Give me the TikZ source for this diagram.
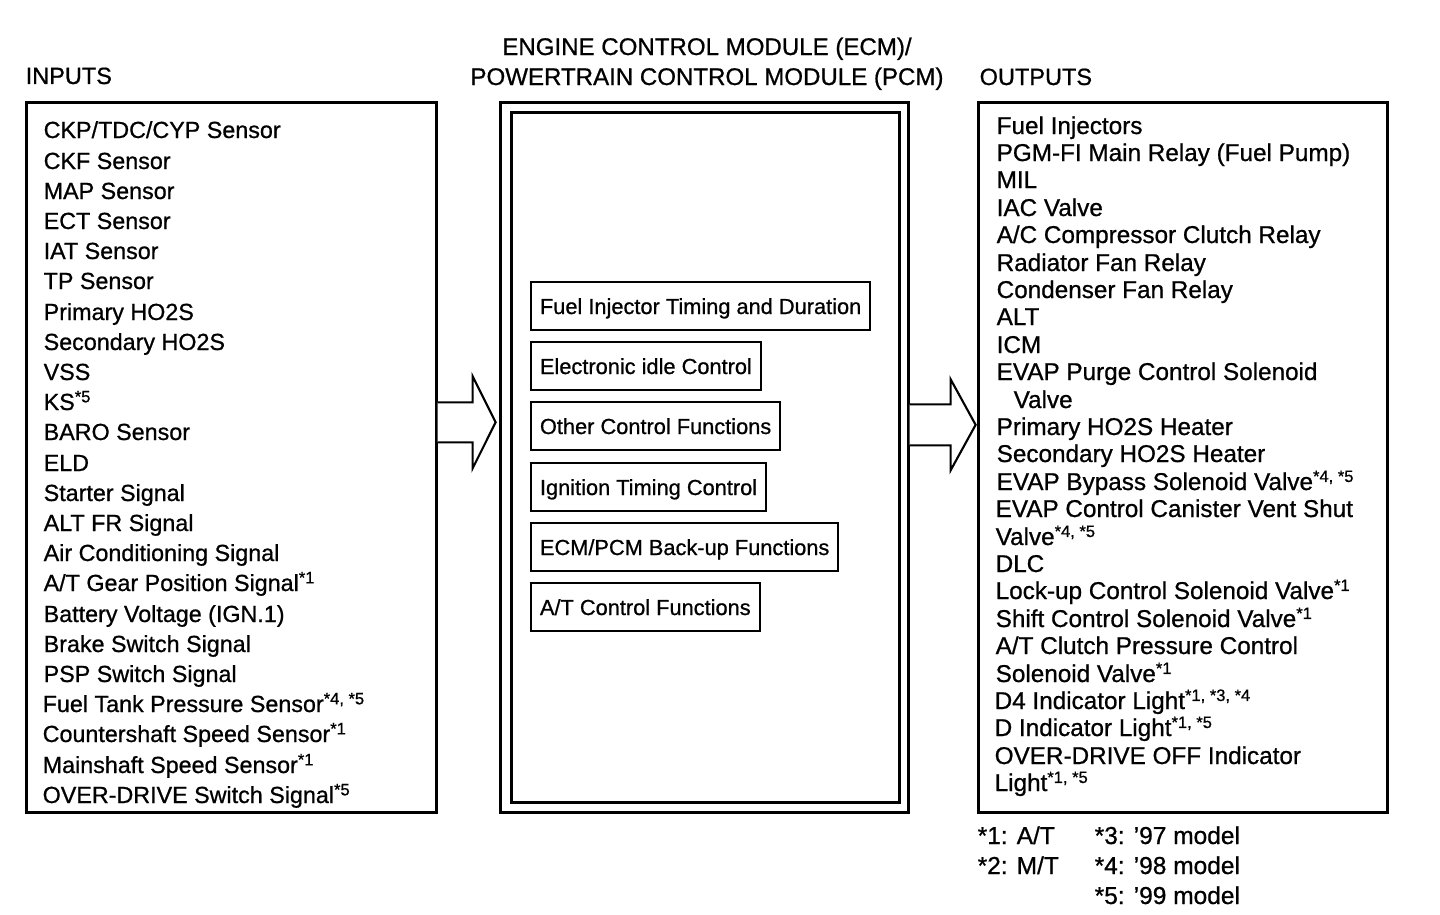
\documentclass[tikz,border=0pt]{standalone}
\usepackage{fontspec}
\setmainfont{Liberation Sans}[FakeBold=0.8]
\usepackage{tikz}
\usetikzlibrary{calc}
\newcommand{\sups}[1]{\raisebox{0.33em}{\fontsize{4.7}{5}\selectfont #1}}
\tikzset{
  bigbox/.style={draw, line width=0.75pt, minimum width=4.10cm, minimum height=7.10cm, anchor=north west},
  fnbox/.style={draw, line width=0.55pt, anchor=west, minimum height=0.37cm, inner xsep=0.09cm,
    text height=2mm, text depth=0.4mm, font=\fontsize{6.2}{7.5}\selectfont},
  intext/.style={anchor=base west, inner sep=0pt, font=\fontsize{6.63}{8}\selectfont},
  outtext/.style={anchor=base west, inner sep=0pt, font=\fontsize{6.91}{8}\selectfont},
  headtext/.style={anchor=base west, inner sep=0pt, font=\fontsize{6.69}{8}\selectfont},
  titletext/.style={anchor=base, inner sep=0pt, font=\fontsize{6.85}{8}\selectfont},
  notetext/.style={anchor=base west, inner sep=0pt, font=\fontsize{6.97}{8}\selectfont},
  blockarrow/.style={draw, line width=0.6pt, line join=miter, fill=white}
}
\begin{document}
\begin{tikzpicture}
  \useasboundingbox (0,0) rectangle (14.4,9.14);

  % Headings
  \node[headtext] (inhead) at (0.25,8.30) {INPUTS};
  \node[titletext] (title1) at (7.07,8.59) {ENGINE CONTROL MODULE (ECM)/};
  \node[titletext] (title2) at (7.07,8.29) {POWERTRAIN CONTROL MODULE (PCM)};
  \node[headtext] (outhead) at (9.79,8.29) {OUTPUTS};

  % --- Inputs ---
  \node[bigbox] (inbox) at (0.25,8.13) {};
  \node[intext] (in1) at (0.43,7.76) {CKP/TDC/CYP Sensor};
  \node[intext] (in2) at (0.43,7.45) {CKF Sensor};
  \node[intext] (in3) at (0.43,7.15) {MAP Sensor};
  \node[intext] (in4) at (0.43,6.85) {ECT Sensor};
  \node[intext] (in5) at (0.43,6.55) {IAT Sensor};
  \node[intext] (in6) at (0.43,6.25) {TP Sensor};
  \node[intext] (in7) at (0.43,5.94) {Primary HO2S};
  \node[intext] (in8) at (0.43,5.64) {Secondary HO2S};
  \node[intext] (in9) at (0.43,5.34) {VSS};
  \node[intext] (in10) at (0.43,5.04) {KS\sups{*5}};
  \node[intext] (in11) at (0.43,4.74) {BARO Sensor};
  \node[intext] (in12) at (0.43,4.43) {ELD};
  \node[intext] (in13) at (0.43,4.13) {Starter Signal};
  \node[intext] (in14) at (0.43,3.83) {ALT FR Signal};
  \node[intext] (in15) at (0.43,3.53) {Air Conditioning Signal};
  \node[intext] (in16) at (0.43,3.23) {A/T Gear Position Signal\sups{*1}};
  \node[intext] (in17) at (0.43,2.92) {Battery Voltage (IGN.1)};
  \node[intext] (in18) at (0.43,2.62) {Brake Switch Signal};
  \node[intext] (in19) at (0.43,2.32) {PSP Switch Signal};
  \node[intext] (in20) at (0.42,2.02) {Fuel Tank Pressure Sensor\sups{*4, *5}};
  \node[intext] (in21) at (0.42,1.72) {Countershaft Speed Sensor\sups{*1}};
  \node[intext] (in22) at (0.42,1.41) {Mainshaft Speed Sensor\sups{*1}};
  \node[intext] (in23) at (0.42,1.11) {OVER-DRIVE Switch Signal\sups{*5}};

  % --- ECM/PCM ---
  \node[bigbox, minimum width=4.08cm] (ecmouter) at (4.99,8.13) {};
  \node[draw, line width=0.75pt, minimum width=3.88cm, minimum height=6.90cm, anchor=north west] (ecminner) at (5.10,8.03) {};
  \node[fnbox] (fninj) at (5.30,6.08) {Fuel Injector Timing and Duration};
  \node[fnbox] (fnidle) at (5.30,5.48) {Electronic idle Control};
  \node[fnbox] (fnother) at (5.30,4.88) {Other Control Functions};
  \node[fnbox] (fnign) at (5.30,4.27) {Ignition Timing Control};
  \node[fnbox] (fnbackup) at (5.30,3.67) {ECM/PCM Back-up Functions};
  \node[fnbox] (fnat) at (5.30,3.07) {A/T Control Functions};

  % --- Outputs ---
  \node[bigbox, minimum width=4.09cm] (outbox) at (9.77,8.13) {};
  \node[outtext] (out1) at (9.96,7.80) {Fuel Injectors};
  \node[outtext] (out2) at (9.96,7.53) {PGM-FI Main Relay (Fuel Pump)};
  \node[outtext] (out3) at (9.96,7.26) {MIL};
  \node[outtext] (out4) at (9.96,6.98) {IAC Valve};
  \node[outtext] (out5) at (9.96,6.71) {A/C Compressor Clutch Relay};
  \node[outtext] (out6) at (9.96,6.43) {Radiator Fan Relay};
  \node[outtext] (out7) at (9.96,6.16) {Condenser Fan Relay};
  \node[outtext] (out8) at (9.96,5.89) {ALT};
  \node[outtext] (out9) at (9.96,5.61) {ICM};
  \node[outtext] (out10) at (9.96,5.34) {EVAP Purge Control Solenoid};
  \node[outtext] (out11) at (10.13,5.06) {Valve};
  \node[outtext] (out12) at (9.96,4.79) {Primary HO2S Heater};
  \node[outtext] (out13) at (9.96,4.52) {Secondary HO2S Heater};
  \node[outtext] (out14) at (9.96,4.24) {EVAP Bypass Solenoid Valve\sups{*4, *5}};
  \node[outtext] (out15) at (9.95,3.97) {EVAP Control Canister Vent Shut};
  \node[outtext] (out16) at (9.95,3.69) {Valve\sups{*4, *5}};
  \node[outtext] (out17) at (9.95,3.42) {DLC};
  \node[outtext] (out18) at (9.95,3.15) {Lock-up Control Solenoid Valve\sups{*1}};
  \node[outtext] (out19) at (9.95,2.87) {Shift Control Solenoid Valve\sups{*1}};
  \node[outtext] (out20) at (9.95,2.60) {A/T Clutch Pressure Control};
  \node[outtext] (out21) at (9.95,2.32) {Solenoid Valve\sups{*1}};
  \node[outtext] (out22) at (9.94,2.05) {D4 Indicator Light\sups{*1, *3, *4}};
  \node[outtext] (out23) at (9.94,1.78) {D Indicator Light\sups{*1, *5}};
  \node[outtext] (out24) at (9.94,1.50) {OVER-DRIVE OFF Indicator};
  \node[outtext] (out25) at (9.94,1.23) {Light\sups{*1, *5}};

  % Block arrows
  \draw[blockarrow] ($(inbox.east)+(0,0.55)$) -- ++(0.35,0) -- ++(0,0.26) -- ++(0.23,-0.46)
    -- ++(-0.23,-0.46) -- ++(0,0.26) -- ++(-0.35,0);
  \draw[blockarrow] ($(ecmouter.east)+(0,0.53)$) -- ++(0.41,0) -- ++(0,0.25) -- ++(0.25,-0.455)
    -- ++(-0.25,-0.455) -- ++(0,0.25) -- ++(-0.41,0);

  % Footnotes
  \node[notetext] (note1) at (9.77,0.70) {*1: A/T};
  \node[notetext] (note2) at (9.77,0.40) {*2: M/T};
  \node[notetext] (note3) at (10.94,0.70) {*3: ’97 model};
  \node[notetext] (note4) at (10.94,0.40) {*4: ’98 model};
  \node[notetext] (note5) at (10.94,0.10) {*5: ’99 model};
\end{tikzpicture}
\end{document}
